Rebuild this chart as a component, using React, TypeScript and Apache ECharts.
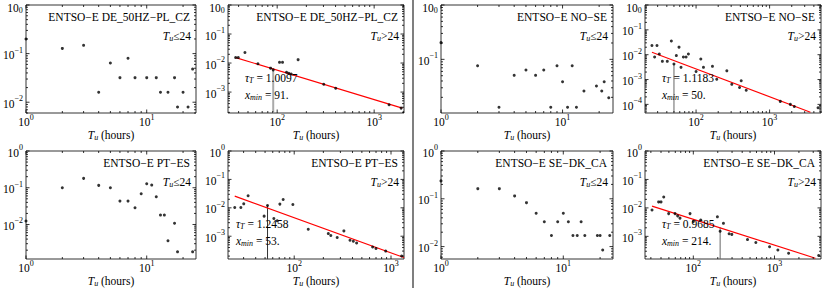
import React, { useEffect, useRef } from 'react';
import * as echarts from 'echarts';

const FONT = 'Liberation Serif, Times New Roman, serif';

// ---------- ENTSO-E DE_50HZ-PL_CZ ----------
const deShortX = [1, 2, 3, 4, 5, 6, 7, 8, 10, 12, 13, 15, 17, 18, 20, 22, 24];
const deShortY = [0.2, 0.128, 0.148, 0.016, 0.064, 0.032, 0.08, 0.032, 0.032, 0.032, 0.016, 0.016, 0.032, 0.008, 0.016, 0.008, 0.048];
const deLongX = [37.3, 39.7, 46.5, 63.3, 85.4, 91, 105.7, 113.5, 124.8, 131.9, 139.4, 164.4, 302, 401, 1426, 1898];
const deLongY = [0.0154, 0.0154, 0.0232, 0.00946, 0.00667, 0.00582, 0.01057, 0.01057, 0.00481, 0.00443, 0.00421, 0.0131, 0.00187, 0.00135, 0.000367, 0.00028];
const deFitX = [37.3, 1950];
const deFitY = [0.0154, 0.00028];
const deTau = '1.0097';
const deXmin = 91;
const deXminTop = 0.0058;

// ---------- ENTSO-E NO-SE ----------
const noShortX = [1, 2, 3, 4, 5, 6, 7, 8, 9, 10, 11, 12, 13, 15, 19, 21, 22, 24];
const noShortY = [0.203, 0.0764, 0.0131, 0.0508, 0.0636, 0.0508, 0.0636, 0.0131, 0.0764, 0.0388, 0.0131, 0.0764, 0.0131, 0.0261, 0.0323, 0.0261, 0.0388, 0.0197];
const noLongX = [25.1, 27.3, 29.4, 31.6, 34.8, 40.6, 46.1, 50, 53.9, 58.6, 62.4, 67.2, 73.1, 78.6, 100, 116, 126, 167, 191, 262, 306, 390, 411, 481, 1397, 1914, 2168, 4560];
const noLongY = [0.0236, 0.0081, 0.0236, 0.0107, 0.0054, 0.0054, 0.0355, 0.0042, 0.0092, 0.0201, 0.0031, 0.0081, 0.0081, 0.0107, 0.0021, 0.0067, 0.0031, 0.0034, 0.00102, 0.00224, 0.00064, 0.00048, 0.0009, 0.00037, 0.000132, 0.0001, 0.0000826, 0.0000728];
const noFitX = [25.1, 3590];
const noFitY = [0.0126, 0.0000485];
const noTau = '1.1183';
const noXmin = 50;
const noXminTop = 0.0042;

// ---------- ENTSO-E PT-ES ----------
const ptShortX = [1, 2, 3, 4, 5, 6, 7, 8, 9, 10, 11, 12, 13, 14, 15, 17, 18, 24];
const ptShortY = [0.0125, 0.1, 0.18, 0.116, 0.1, 0.0433, 0.0433, 0.0285, 0.0686, 0.129, 0.118, 0.0568, 0.018, 0.018, 0.0036, 0.0108, 0.0018, 0.0018];
const ptLongX = [24.3, 28.1, 30.1, 33.4, 48.9, 53, 61.6, 66.7, 71.1, 76.9, 96.8, 139.6, 225, 239, 278, 326, 377, 408, 441, 646, 700, 881, 1288];
const ptLongY = [0.0103, 0.0103, 0.0138, 0.0265, 0.0051, 0.0121, 0.0042, 0.0035, 0.0135, 0.0197, 0.0131, 0.00177, 0.00124, 0.00106, 0.0009, 0.00154, 0.00072, 0.00067, 0.00058, 0.00042, 0.00037, 0.0003, 0.000202];
const ptFitX = [24.3, 1362];
const ptFitY = [0.0258, 0.000177];
const ptTau = '1.2458';
const ptXmin = 53;
const ptXminTop = 0.0121;

// ---------- ENTSO-E SE-DK_CA ----------
const seShortX = [1, 2, 3, 4, 5, 6, 7, 8, 9, 10, 11, 12, 13, 14, 15, 19, 20, 21, 24];
const seShortY = [0.237, 0.163, 0.163, 0.115, 0.083, 0.0497, 0.0332, 0.0171, 0.0332, 0.0497, 0.0332, 0.0171, 0.0171, 0.0332, 0.0171, 0.0171, 0.0171, 0.0085, 0.0171];
const seLongX = [31, 37.4, 40, 43.2, 49.7, 59.5, 64.1, 68.5, 91.1, 100.2, 123.4, 198, 214, 235, 276, 298, 465, 589, 869, 1101, 1492, 3500];
const seLongY = [0.00843, 0.01626, 0.01626, 0.0242, 0.0063, 0.0063, 0.00525, 0.00437, 0.0063, 0.00336, 0.00373, 0.00485, 0.00152, 0.00287, 0.00123, 0.00117, 0.00077, 0.00061, 0.00043, 0.000331, 0.000255, 0.000212];
const seFitX = [31, 3186];
const seFitY = [0.01156, 0.000171];
const seTau = '0.9685';
const seXmin = 214;
const seXminTop = 0.0021;

type Fit = { fx: number[]; fy: number[]; tau: string; xmin: number; top: number; vColor: string; vWidth: number; annX: number };
type Panel = {
  title: string; cond: string; xs: number[]; ys: number[];
  xr: [number, number]; yr: [number, number];
  box: [number, number, number, number];
  fit?: Fit;
};

const panels: Panel[] = [
  { title: 'ENTSO−E DE_50HZ−PL_CZ', cond: '≤24', xs: deShortX, ys: deShortY, xr: [1, 25.6], yr: [0.006, 1], box: [26, 5, 170, 108] },
  { title: 'ENTSO−E DE_50HZ−PL_CZ', cond: '>24', xs: deLongX, ys: deLongY, xr: [31.1, 2032], yr: [1.9e-4, 1], box: [228, 5, 176, 108],
    fit: { fx: deFitX, fy: deFitY, tau: deTau, xmin: deXmin, top: deXminTop, vColor: '#aaaaaa', vWidth: 2, annX: 17 } },
  { title: 'ENTSO−E NO−SE', cond: '≤24', xs: noShortX, ys: noShortY, xr: [1, 26], yr: [0.0103, 1], box: [441, 5, 172, 108] },
  { title: 'ENTSO−E NO−SE', cond: '>24', xs: noLongX, ys: noLongY, xr: [20.2, 5000], yr: [4.5e-5, 1], box: [645, 5, 176, 108],
    fit: { fx: noFitX, fy: noFitY, tau: noTau, xmin: noXmin, top: noXminTop, vColor: '#999999', vWidth: 1.5, annX: 17 } },
  { title: 'ENTSO−E PT−ES', cond: '≤24', xs: ptShortX, ys: ptShortY, xr: [1, 25.6], yr: [0.00115, 1], box: [26, 151, 170, 108] },
  { title: 'ENTSO−E PT−ES', cond: '>24', xs: ptLongX, ys: ptLongY, xr: [20.7, 1362], yr: [1.58e-4, 1], box: [228, 151, 176, 108],
    fit: { fx: ptFitX, fy: ptFitY, tau: ptTau, xmin: ptXmin, top: ptXminTop, vColor: '#333333', vWidth: 1, annX: 8 } },
  { title: 'ENTSO−E SE−DK_CA', cond: '≤24', xs: seShortX, ys: seShortY, xr: [1, 25.5], yr: [0.0055, 1], box: [441, 151, 172, 108] },
  { title: 'ENTSO−E SE−DK_CA', cond: '>24', xs: seLongX, ys: seLongY, xr: [25.4, 3740], yr: [1.6e-4, 1], box: [645, 151, 176, 108],
    fit: { fx: seFitX, fy: seFitY, tau: seTau, xmin: seXmin, top: seXminTop, vColor: '#666666', vWidth: 1, annX: 17 } },
];

const FS = 11.5;
const SUB = 8;

const tickRich = {
  b: { fontFamily: FONT, fontSize: FS, color: '#000', lineHeight: 15, verticalAlign: 'bottom' },
  s: { fontFamily: FONT, fontSize: SUB, color: '#000', lineHeight: 8, verticalAlign: 'top' },
  // variant for the label at the very top edge of the page, nudged down to stay inside it
  bt: { fontFamily: FONT, fontSize: FS, color: '#000', lineHeight: 9, verticalAlign: 'bottom' },
  st: { fontFamily: FONT, fontSize: SUB, color: '#000', lineHeight: 16, verticalAlign: 'bottom' },
  pd: { fontFamily: FONT, fontSize: 1, color: '#000', lineHeight: 18, verticalAlign: 'bottom' },
};

const textRich = {
  n: { fontFamily: FONT, fontSize: FS, fill: '#000', color: '#000', lineHeight: 12 },
  i: { fontFamily: FONT, fontSize: FS, fontStyle: 'italic', fill: '#000', color: '#000', lineHeight: 12 },
  u: { fontFamily: FONT, fontSize: SUB, fontStyle: 'italic', fill: '#000', color: '#000', lineHeight: 8, verticalAlign: 'bottom' },
};

function expOf(v: number): number | null {
  const l = Math.log10(v);
  const e = Math.round(l);
  return Math.abs(l - e) > 1e-6 ? null : e;
}
const expText = (e: number) => (e < 0 ? '−' + -e : String(e));

function powLabel(v: number): string {
  const e = expOf(v);
  return e === null ? '' : `{b|10}{s|${expText(e)}}`;
}

function makeYLabel(atTopEdge: boolean) {
  return (v: number): string => {
    const e = expOf(v);
    if (e === null) return '';
    if (atTopEdge && e === 0) return `{bt|10}{st|${expText(e)}}{pd| }`;
    return `{b|10}{s|${expText(e)}}`;
  };
}

function logTickValues(r: [number, number]) {
  const out: { v: number; major: boolean }[] = [];
  const k0 = Math.floor(Math.log10(r[0])) - 1;
  const k1 = Math.ceil(Math.log10(r[1])) + 1;
  for (let k = k0; k <= k1; k++) {
    for (let m = 1; m <= 9; m++) {
      const v = m * Math.pow(10, k);
      if (v >= r[0] * 0.9999 && v <= r[1] * 1.0001) out.push({ v, major: m === 1 });
    }
  }
  return out;
}

function makeTicks(xr: [number, number], yr: [number, number]) {
  return (params: any, api: any) => {
    const cs = params.coordSys;
    const L = cs.x, R = cs.x + cs.width, T = cs.y, B = cs.y + cs.height;
    const children: any[] = [];
    const ln = (x1: number, y1: number, x2: number, y2: number) => ({
      type: 'line', shape: { x1, y1, x2, y2 }, style: { stroke: '#000', lineWidth: 0.8 }, silent: true,
    });
    for (const t of logTickValues(xr)) {
      const px = api.coord([t.v, yr[0]])[0];
      const len = t.major ? 3.5 : 2;
      children.push(ln(px, B, px, B - len));
      children.push(ln(px, T, px, T + len));
    }
    for (const t of logTickValues(yr)) {
      const py = api.coord([xr[0], t.v])[1];
      const len = t.major ? 3.5 : 2;
      children.push(ln(L, py, L + len, py));
      children.push(ln(R, py, R - len, py));
    }
    return { type: 'group', children };
  };
}

function buildOption() {
  const grid: any[] = [];
  const xAxis: any[] = [];
  const yAxis: any[] = [];
  const series: any[] = [];
  const graphic: any[] = [];

  panels.forEach((p, i) => {
    const [left, top, width, height] = p.box;
    grid.push({
      left, top, width, height, show: true, borderColor: '#000', borderWidth: 0.8,
      backgroundColor: 'transparent', containLabel: false, outerBoundsMode: 'none',
    });
    const common = {
      type: 'log', logBase: 10, gridIndex: i, splitNumber: 10,
      axisLine: { show: false }, axisTick: { show: false }, minorTick: { show: false },
      splitLine: { show: false }, minorSplitLine: { show: false },
    };
    xAxis.push({
      ...common, min: p.xr[0], max: p.xr[1],
      axisLabel: { formatter: powLabel, margin: 0, rich: tickRich, color: '#000', showMinLabel: true, showMaxLabel: true },
    });
    yAxis.push({
      ...common, min: p.yr[0], max: p.yr[1],
      axisLabel: { formatter: makeYLabel(top < 20), margin: 3, rich: tickRich, color: '#000', showMinLabel: true, showMaxLabel: true },
    });

    series.push({
      type: 'custom', xAxisIndex: i, yAxisIndex: i, renderItem: makeTicks(p.xr, p.yr),
      data: [[p.xr[0], p.yr[0]]], silent: true, clip: false, z: 5,
    });
    if (p.fit) {
      const f = p.fit;
      series.push({
        type: 'line', xAxisIndex: i, yAxisIndex: i, data: [[f.xmin, p.yr[0]], [f.xmin, f.top]],
        symbol: 'none', lineStyle: { color: f.vColor, width: f.vWidth }, silent: true, z: 2,
      });
      series.push({
        type: 'line', xAxisIndex: i, yAxisIndex: i, data: f.fx.map((x, k) => [x, f.fy[k]]),
        symbol: 'none', lineStyle: { color: '#ff0000', width: 1.1 }, silent: true, z: 3, clip: true,
      });
      graphic.push({
        type: 'text', x: left + f.annX, y: top + 73,
        style: { text: `{i|τ}{u|T}{n| = ${f.tau}}`, rich: textRich, align: 'left', verticalAlign: 'middle' }, z: 10,
      });
      graphic.push({
        type: 'text', x: left + f.annX, y: top + 90,
        style: { text: `{i|x}{u|min}{n| = ${f.xmin}.}`, rich: textRich, align: 'left', verticalAlign: 'middle' }, z: 10,
      });
    }
    series.push({
      type: 'scatter', xAxisIndex: i, yAxisIndex: i, data: p.xs.map((x, k) => [x, p.ys[k]]),
      symbol: 'circle', symbolSize: 3, itemStyle: { color: '#000' }, silent: true, z: 4,
    });

    graphic.push({
      type: 'text', x: left + width - 6, y: top + 12,
      style: { text: p.title, fontFamily: FONT, fontSize: FS, fill: '#000', align: 'right', verticalAlign: 'middle' }, z: 10,
    });
    graphic.push({
      type: 'text', x: left + width - 5, y: top + 31,
      style: { text: `{i|T}{u|u}{n|${p.cond}}`, rich: textRich, align: 'right', verticalAlign: 'middle' }, z: 10,
    });
    graphic.push({
      type: 'text', x: left + width / 2, y: top + height + 22,
      style: { text: '{i|T}{u|u}{n| (hours)}', rich: textRich, align: 'center', verticalAlign: 'middle' }, z: 10,
    });
  });

  graphic.push({
    type: 'line', shape: { x1: 413, y1: 0, x2: 413, y2: 288 },
    style: { stroke: '#555555', lineWidth: 1.5 }, z: 10,
  });

  return {
    animation: false,
    backgroundColor: '#ffffff',
    grid, xAxis, yAxis, series, graphic,
  };
}

export default function App() {
  const ref = useRef<HTMLDivElement>(null);
  useEffect(() => {
    if (!ref.current) return;
    const chart = echarts.init(ref.current, null, { renderer: 'svg' });
    chart.setOption(buildOption() as any);
    return () => chart.dispose();
  }, []);
  return (
    <div
      ref={ref}
      style={{ position: 'absolute', left: 0, top: 0, width: 822, height: 288, background: '#fff' }}
    />
  );
}
